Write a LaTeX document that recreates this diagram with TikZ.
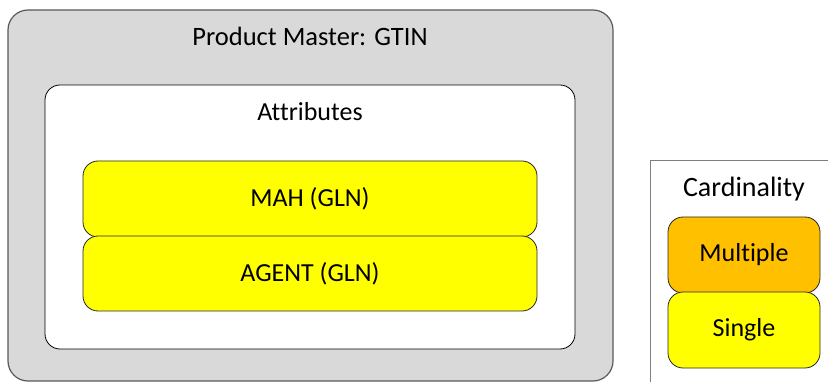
\documentclass[tikz,border=0pt]{standalone}
\usepackage{fontspec}
\setmainfont{Carlito}[Ligatures={NoCommon}]
\definecolor{outerfill}{HTML}{D9D9D9}
\definecolor{outerdraw}{HTML}{595959}
\definecolor{yel}{HTML}{FFFF00}
\definecolor{org}{HTML}{FFC000}
\definecolor{legdraw}{HTML}{7F7F7F}
\tikzset{
  pxbox/.style={draw, rounded corners=#1, inner sep=0pt, outer sep=0pt},
  attrbox/.style={pxbox=15pt, fill=yel, draw=black!85, line width=0.8pt},
  lbl/.style={inner sep=0pt, font=\fontsize{26}{30}\selectfont, anchor=center},
}
\begin{document}
\begin{tikzpicture}[x=1pt,y=-1pt]
\useasboundingbox (0,0) rectangle (828,382);
\clip (0,0) rectangle (828,382);
% outer product master box
\node[pxbox=20pt, fill=outerfill, draw=outerdraw, line width=1.2pt, minimum width=605pt, minimum height=371pt] (outer) at (310.5,195.5) {};
\node[lbl, font=\fontsize{26.5}{30}\selectfont] (title) at (310,36) {Product Master: GTIN};
% attributes box
\node[pxbox=15pt, fill=white, draw=black, line width=0.8pt, minimum width=530pt, minimum height=264pt] (attr) at (310,217) {};
\node[lbl] (attrt) at (310,112) {Attributes};
% attribute entries
\node[attrbox, minimum width=454pt, minimum height=76pt] (mah) at (310,199) {};
\node[lbl] (maht) at (mah.center) {MAH (GLN)};
\node[attrbox, minimum width=454pt, minimum height=75pt] (agent) at (310,273.5) {};
\node[lbl] (agentt) at (agent.center) {AGENT (GLN)};
% legend
\node[draw=legdraw, fill=white, line width=0.8pt, inner sep=0pt, minimum width=200pt, minimum height=250pt, anchor=north west] (legend) at (650,160.5) {};
\node[lbl, font=\fontsize{28}{32}\selectfont] (legt) at (744,189) {Cardinality};
\node[pxbox=15pt, fill=org, draw=black!85, line width=0.8pt, minimum width=152pt, minimum height=76pt] (multi) at (744,255) {};
\node[lbl] (multit) at (multi.center) {Multiple};
\node[pxbox=15pt, fill=yel, draw=black!85, line width=0.8pt, minimum width=152pt, minimum height=76pt] (single) at (744,330) {};
\node[lbl] (singlet) at (single.center) {Single};
\end{tikzpicture}
\end{document}
